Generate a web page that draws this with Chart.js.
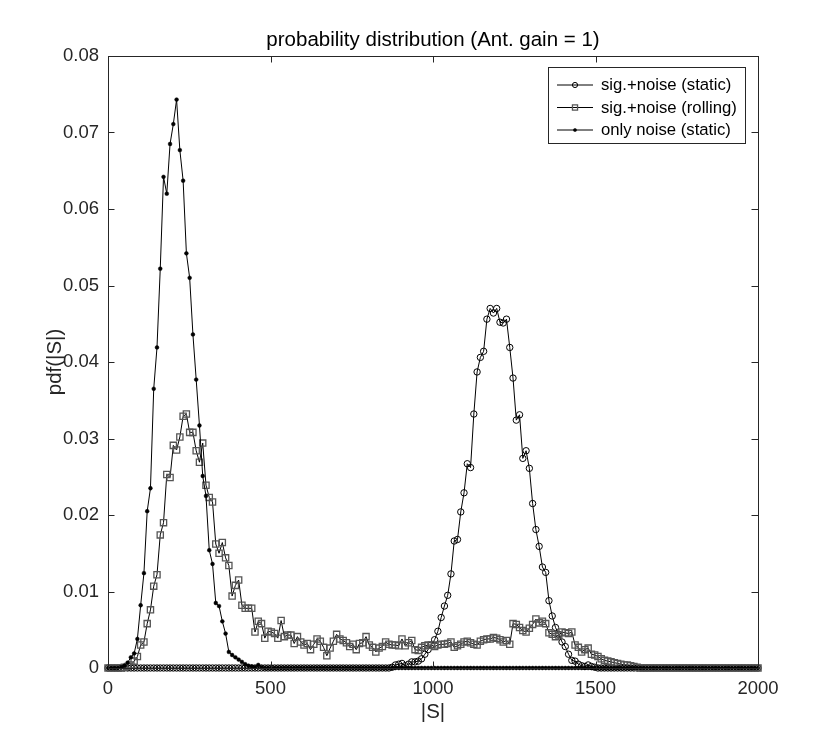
<!DOCTYPE html>
<html><head><meta charset="utf-8">
<script src="https://cdn.jsdelivr.net/npm/chart.js@4.4.1/dist/chart.umd.min.js"></script>
<style>html,body{margin:0;padding:0;background:#fff;}#wrap{width:836px;height:750px;}</style>
</head><body><div id="wrap"><canvas id="c" width="836" height="750"></canvas></div>
<script>
// ---- data ----
const X_MIN = 0, X_MAX = 2000, N_BINS = 200;
const xTicks = [0, 500, 1000, 1500, 2000];
const xTickLabels = ['0', '500', '1000', '1500', '2000'];
const yTicks = [0, 0.01, 0.02, 0.03, 0.04, 0.05, 0.06, 0.07, 0.08];
const yTickLabels = ['0', '0.01', '0.02', '0.03', '0.04', '0.05', '0.06', '0.07', '0.08'];
const seriesLabels = ['sig.+noise (static)', 'sig.+noise (rolling)', 'only noise (static)'];
const titleText = 'probability distribution (Ant. gain = 1)';
const xLabel = '|S|';
const yLabel = 'pdf(|S|)';

const sigStatic = [
0,0,0,0,0,0,0,0,0,0,
0,0,0,0,0,0,0,0,0,0,
0,0,0,0,0,0,0,0,0,0,
0,0,0,0,0,0,0,0,0,0,
0,0,0,0,0,0,0,0,0,0,
0,0,0,0,0,0,0,0,0,0,
0,0,0,0,0,0,0,0,0,0,
0,0,0,0,0,0,0,0,0,0,
0,0,0,0,0,0,0,0.0001,0.0004,0.0005,
0.0006,0.0003,0.0005,0.0008,0.0008,0.0009,0.0012,0.0018,0.0024,0.0030,
0.0037,0.0048,0.0066,0.0081,0.0095,0.0123,0.0166,0.0168,0.0204,0.0229,
0.0267,0.0262,0.0332,0.0387,0.0406,0.0414,0.0456,0.0470,0.0464,0.0470,
0.0452,0.0451,0.0456,0.0419,0.0379,0.0324,0.0331,0.0274,0.0284,0.0261,
0.0215,0.0181,0.0159,0.0132,0.0125,0.0088,0.0068,0.0053,0.0044,0.0034,
0.0028,0.0018,0.0010,0.0009,0.0005,0.0003,0.0002,0.0004,0.0002,0.0001,
0,0,0,0,0,0,0,0,0,0,
0,0,0,0,0,0,0,0,0,0,
0,0,0,0,0,0,0,0,0,0,
0,0,0,0,0,0,0,0,0,0,
0,0,0,0,0,0,0,0,0,0
];

const sigRolling = [
0,0,0,0,0,0.0001,0.0002,0.0004,0.0009,0.0015,
0.0030,0.0034,0.0058,0.0076,0.0107,0.0122,0.0174,0.0190,0.0253,0.0249,
0.0291,0.0285,0.0302,0.0329,0.0332,0.0308,0.0308,0.0284,0.0269,0.0294,
0.0239,0.0223,0.0217,0.0162,0.0150,0.0164,0.0144,0.0134,0.0094,0.0108,
0.0115,0.0082,0.0078,0.0078,0.0078,0.0047,0.0061,0.0058,0.0039,0.0048,
0.0047,0.0045,0.0039,0.0062,0.0041,0.0043,0.0043,0.0032,0.0041,0.0034,
0.0030,0.0032,0.0024,0.0031,0.0038,0.0035,0.0027,0.0016,0.0026,0.0035,
0.0044,0.0038,0.0036,0.0033,0.0028,0.0031,0.0024,0.0032,0.0033,0.0041,
0.0030,0.0027,0.0021,0.0026,0.0028,0.0034,0.0031,0.0030,0.0030,0.0029,
0.0038,0.0029,0.0033,0.0036,0.0024,0.0023,0.0027,0.0029,0.0030,0.0030,
0.0028,0.0030,0.0031,0.0031,0.0032,0.0034,0.0027,0.0029,0.0031,0.0034,
0.0035,0.0033,0.0031,0.0030,0.0035,0.0037,0.0038,0.0038,0.0040,0.0039,
0.0037,0.0034,0.0036,0.0031,0.0058,0.0057,0.0053,0.0049,0.0047,0.0052,
0.0057,0.0064,0.0059,0.0061,0.0058,0.0046,0.0044,0.0041,0.0043,0.0047,
0.0046,0.0045,0.0047,0.0030,0.0027,0.0021,0.0024,0.0026,0.0018,0.0017,
0.0015,0.0012,0.0010,0.0009,0.0008,0.0007,0.0006,0.0005,0.0004,0.0004,
0.0003,0.0002,0.0001,0,0,0,0,0,0,0,
0,0,0,0,0,0,0,0,0,0,
0,0,0,0,0,0,0,0,0,0,
0,0,0,0,0,0,0,0,0,0
];

const onlyNoise = [
0,0,0,0,0.0001,0.0003,0.0007,0.0014,0.0019,0.0038,
0.0082,0.0124,0.0205,0.0235,0.0365,0.0419,0.0522,0.0642,0.0620,0.0685,
0.0711,0.0743,0.0677,0.0637,0.0542,0.0510,0.0436,0.0377,0.0317,0.0251,
0.0225,0.0154,0.0136,0.0085,0.0081,0.0061,0.0045,0.0021,0.0017,0.0014,
0.0011,0.0008,0.0005,0.0003,0.0002,0.0001,0.0004,0.0001,0,0,
0,0,0,0,0,0,0,0,0,0,
0,0,0,0,0,0,0,0,0,0,
0,0,0,0,0,0,0,0,0,0,
0,0,0,0,0,0,0,0,0,0,
0,0,0,0,0,0,0,0,0,0,
0,0,0,0,0,0,0,0,0,0,
0,0,0,0,0,0,0,0,0,0,
0,0,0,0,0,0,0,0,0,0,
0,0,0,0,0,0,0,0,0,0,
0,0,0,0,0,0,0,0,0,0,
0,0,0,0,0,0,0,0,0,0,
0,0,0,0,0,0,0,0,0,0,
0,0,0,0,0,0,0,0,0,0,
0,0,0,0,0,0,0,0,0,0,
0,0,0,0,0,0,0,0,0,0
];

// ---- build ----
const binStep = (X_MAX - X_MIN) / (N_BINS - 1);
const toPts = arr => arr.map((v, i) => ({ x: X_MIN + i * binStep, y: v }));

const FONT = "'Liberation Sans', Arial, Helvetica, sans-serif";
const AX = '#262626';
const PLOT = { left: 108, top: 56, right: 758, bottom: 668 };

const boxPlugin = {
  id: 'mbox',
  afterDatasetsDraw(chart) {
    const ctx = chart.ctx, a = chart.chartArea;
    const xs = chart.scales.x, ys = chart.scales.y;
    const TL = 6.5;
    ctx.save();
    ctx.strokeStyle = AX; ctx.lineWidth = 1;
    ctx.strokeRect(Math.round(a.left) + 0.5, Math.round(a.top) + 0.5, Math.round(a.right - a.left), Math.round(a.bottom - a.top));
    ctx.beginPath();
    xTicks.forEach(v => {
      const px = Math.round(xs.getPixelForValue(v)) + 0.5;
      ctx.moveTo(px, a.bottom); ctx.lineTo(px, a.bottom - TL);
      ctx.moveTo(px, a.top); ctx.lineTo(px, a.top + TL);
    });
    yTicks.forEach(v => {
      const py = Math.round(ys.getPixelForValue(v)) + 0.5;
      ctx.moveTo(a.left, py); ctx.lineTo(a.left + TL, py);
      ctx.moveTo(a.right, py); ctx.lineTo(a.right - TL, py);
    });
    ctx.stroke();
    // title, centred over the plot box
    ctx.fillStyle = '#000';
    ctx.font = '20.5px ' + FONT;
    ctx.textAlign = 'center'; ctx.textBaseline = 'middle';
    ctx.fillText(titleText, (a.left + a.right) / 2, 40);
    ctx.restore();
  }
};

const legendPlugin = {
  id: 'mlegend',
  afterDraw(chart) {
    const ctx = chart.ctx;
    const L = { x: 548.5, y: 67.5, w: 197, h: 76 };
    ctx.save();
    ctx.fillStyle = '#fff';
    ctx.fillRect(L.x, L.y, L.w, L.h);
    ctx.strokeStyle = AX; ctx.lineWidth = 1;
    ctx.strokeRect(L.x, L.y, L.w, L.h);
    chart.data.datasets.forEach((ds, i) => {
      const y = 85 + i * 22.5;
      ctx.strokeStyle = ds.borderColor; ctx.lineWidth = ds.borderWidth;
      ctx.beginPath(); ctx.moveTo(557, y); ctx.lineTo(593, y); ctx.stroke();
      ctx.fillStyle = ds.pointBackgroundColor;
      ctx.strokeStyle = ds.pointBorderColor;
      ctx.lineWidth = ds.pointBorderWidth;
      Chart.helpers.drawPoint(ctx, { pointStyle: ds.pointStyle, radius: ds.legendRadius, borderWidth: ds.pointBorderWidth, rotation: 0 }, 575, y);
      ctx.fillStyle = '#000';
      ctx.font = '16.7px ' + FONT;
      ctx.textBaseline = 'middle'; ctx.textAlign = 'left';
      ctx.fillText(ds.label, 601, y + 0.5);
    });
    ctx.restore();
  }
};

new Chart(document.getElementById('c').getContext('2d'), {
  type: 'line',
  data: {
    datasets: [
      { label: seriesLabels[0], data: toPts(sigStatic), borderColor: '#000', borderWidth: 1, tension: 0,
        pointStyle: 'circle', pointRadius: 3.2, legendRadius: 2.6, pointBorderColor: '#000', pointBackgroundColor: 'rgba(0,0,0,0)', pointBorderWidth: 1, clip: false, order: 3 },
      { label: seriesLabels[1], data: toPts(sigRolling), borderColor: '#000', borderWidth: 1, tension: 0,
        pointStyle: 'rect', pointRadius: 4.4, legendRadius: 3.6, pointBorderColor: '#555', pointBackgroundColor: 'rgba(0,0,0,0)', pointBorderWidth: 1.3, clip: false, order: 2 },
      { label: seriesLabels[2], data: toPts(onlyNoise), borderColor: '#000', borderWidth: 1, tension: 0,
        pointStyle: 'circle', pointRadius: 1.9, legendRadius: 1.6, pointBorderColor: '#000', pointBackgroundColor: '#000', pointBorderWidth: 0.5, clip: false, order: 1 }
    ]
  },
  options: {
    responsive: false, animation: false, devicePixelRatio: 1,
    layout: { padding: { left: 0, right: 836 - PLOT.right, top: PLOT.top, bottom: 0 } },
    plugins: {
      legend: { display: false },
      tooltip: { enabled: false },
      title: { display: false }
    },
    scales: {
      x: {
        type: 'linear', min: X_MIN, max: X_MAX,
        afterBuildTicks: s => { s.ticks = xTicks.map(v => ({ value: v })); },
        afterFit: s => { s.height = 750 - PLOT.bottom; },
        grid: { display: false, drawTicks: false },
        border: { display: false },
        ticks: { color: AX, padding: 10, maxRotation: 0, autoSkip: false,
          font: { family: FONT, size: 18.5 },
          callback: v => xTickLabels[xTicks.indexOf(v)] },
        title: { display: true, text: xLabel, color: AX,
          font: { family: FONT, size: 20.5, lineHeight: 1.2 }, padding: { top: 0, bottom: 25 } }
      },
      y: {
        type: 'linear', min: 0, max: 0.08,
        afterBuildTicks: s => { s.ticks = yTicks.map(v => ({ value: v })); },
        afterFit: s => { s.width = PLOT.left; },
        grid: { display: false, drawTicks: false },
        border: { display: false },
        ticks: { color: AX, padding: 9, autoSkip: false,
          font: { family: FONT, size: 18.5 },
          callback: v => yTickLabels[yTicks.indexOf(v)] },
        title: { display: true, text: yLabel, color: AX,
          font: { family: FONT, size: 20.5, lineHeight: 1.2 }, padding: { top: 43, bottom: 0 } }
      }
    }
  },
  plugins: [boxPlugin, legendPlugin]
});
</script>
</body></html>
